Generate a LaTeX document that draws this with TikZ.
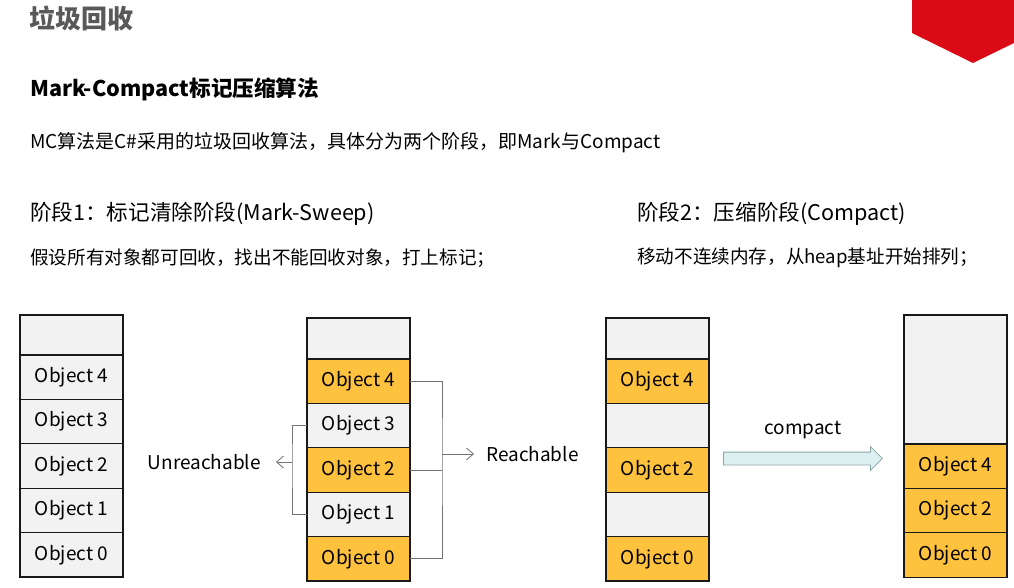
\documentclass[tikz,border=0pt]{standalone}
\usepackage{fontspec}
\setmainfont{Noto Sans CJK SC}
\usetikzlibrary{positioning,shapes.arrows,arrows.meta}
\definecolor{objorange}{HTML}{FFC23F}
\definecolor{freegrey}{HTML}{F2F2F2}
\definecolor{slidered}{HTML}{DA0B17}
\definecolor{titlegrey}{HTML}{595959}
\definecolor{arrowfill}{HTML}{DDF0F1}
\definecolor{arrowline}{HTML}{8AA5A6}
\tikzset{
  cell/.style={draw=black!90, line width=1.2pt, minimum width=103pt,
    minimum height=44.4pt, inner sep=0pt, outer sep=0pt,
    font=\fontsize{19}{22}\selectfont},
  live/.style={cell, fill=objorange},
  dead/.style={cell, fill=freegrey},
  link/.style={draw=black!55, line width=0.8pt},
  linkarrow/.style={link, -{Straight Barb[length=7pt, width=12pt]}},
  txt/.style={anchor=west, inner sep=0pt},
}
\begin{document}
\begin{tikzpicture}[x=1pt, y=1pt]
    \useasboundingbox (0,0) rectangle (1014,-588);
    % corner mark
    \fill[slidered] (912,0) -- (1014,0) -- (1014,-43) -- (973,-63) -- (912,-33) -- cycle;
    % texts
    \node[txt, font=\fontsize{26}{30}\selectfont\bfseries, text=titlegrey] (title) at (29,-18) {垃圾回收};
    \node[txt, font=\fontsize{21.6}{25}\selectfont\bfseries] (sub) at (30,-89) {Mark-Compact标记压缩算法};
    \node[txt, font=\fontsize{19}{22}\selectfont] (intro) at (30,-143) {MC算法是C\#采用的垃圾回收算法，具体分为两个阶段，即Mark与Compact};
    \node[txt, font=\fontsize{21.6}{25}\selectfont] (step1) at (30,-214) {阶段1：标记清除阶段(Mark-Sweep)};
    \node[txt, font=\fontsize{18.6}{22}\selectfont] (desc1) at (30,-258) {假设所有对象都可回收，找出不能回收对象，打上标记；};
    \node[txt, font=\fontsize{21.6}{25}\selectfont] (step2) at (637,-214) {阶段2：压缩阶段(Compact)};
    \node[txt, font=\fontsize{18.6}{22}\selectfont] (desc2) at (637,-258) {移动不连续内存，从heap基址开始排列；};
    % heap before marking
    \node[dead, minimum height=40pt, anchor=north west] (a5) at (20,-315) {};
    \node[dead, below=0pt of a5] (a4) {Object 4};
    \node[dead, below=0pt of a4] (a3) {Object 3};
    \node[dead, below=0pt of a3] (a2) {Object 2};
    \node[dead, below=0pt of a2] (a1) {Object 1};
    \node[dead, below=0pt of a1] (a0) {Object 0};
    % heap after marking
    \node[dead, minimum height=41pt, anchor=north west] (b5) at (307,-318) {};
    \node[live, below=0pt of b5] (b4) {Object 4};
    \node[dead, below=0pt of b4] (b3) {Object 3};
    \node[live, below=0pt of b3] (b2) {Object 2};
    \node[dead, below=0pt of b2] (b1) {Object 1};
    \node[live, below=0pt of b1] (b0) {Object 0};
    % heap after sweep
    \node[dead, minimum height=41pt, anchor=north west] (c5) at (606,-318) {};
    \node[live, below=0pt of c5] (c4) {Object 4};
    \node[dead, below=0pt of c4] (c3) {};
    \node[live, below=0pt of c3] (c2) {Object 2};
    \node[dead, below=0pt of c2] (c1) {};
    \node[live, below=0pt of c1] (c0) {Object 0};
    % heap after compact
    \node[dead, minimum height=129pt, anchor=north west] (d5) at (904,-315) {};
    \node[live, below=0pt of d5] (d4) {Object 4};
    \node[live, below=0pt of d4] (d2) {Object 2};
    \node[live, below=0pt of d2] (d0) {Object 0};
    % labels
    \node[txt, anchor=east, font=\fontsize{19}{22}\selectfont] (unreach) at (261,-462) {Unreachable};
    \node[txt, font=\fontsize{19}{22}\selectfont] (reach) at (486,-454) {Reachable};
    \node[font=\fontsize{19}{22}\selectfont, inner sep=0pt] (cmplabel) at (803,-430) {compact};
    \coordinate (rfork) at (442,-454);
    \coordinate (lfork) at (292,-462);
    % draw edges
    \draw[link] (b4.east) -| (rfork) |- (b0.east);
    \draw[link] (b2.east) -- (b2.east -| rfork);
    \draw[linkarrow] (rfork) -- ([xshift=-12pt]reach.west);
    \draw[link] (b3.west) -| (lfork) |- (b1.west);
    \draw[linkarrow] (lfork) -- ([xshift=15pt]unreach.east);
    % compact arrow
    \node[single arrow, draw=arrowline, fill=arrowfill, line width=0.8pt,
      inner sep=0pt, inner ysep=6pt, single arrow head extend=5.5pt,
      minimum height=159pt, anchor=west] (cmp) at (723,-458.5) {};
\end{tikzpicture}
\end{document}
